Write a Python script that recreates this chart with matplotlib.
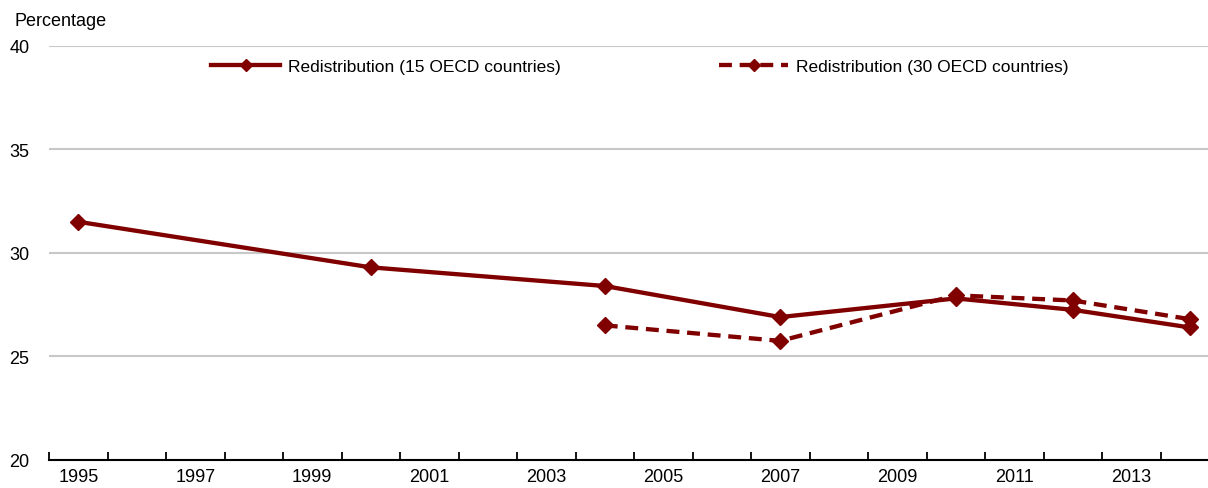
import matplotlib.pyplot as plt
import numpy as np

plt.rcParams['font.family'] = ['Liberation Sans', 'DejaVu Sans']

years = list(range(1995, 2015))
years_15 = [1995, 2000, 2004, 2007, 2010, 2012, 2014]
redis_15 = [31.5, 29.3, 28.4, 26.9, 27.8, 27.25, 26.4]
years_30 = [2004, 2007, 2010, 2012, 2014]
redis_30 = [26.5, 25.75, 27.95, 27.7, 26.8]

col = '#800000'

fig = plt.figure(figsize=(12.08, 4.89), dpi=100)
ax = fig.add_axes([49/1208, 28/489, (1219-49)/1208, 414.3/489])

x15 = [years.index(y) for y in years_15]
x30 = [years.index(y) for y in years_30]

ax.plot(x15, redis_15, color=col, lw=3.1, marker='D', ms=8,
        label='Redistribution (15 OECD countries)', zorder=3)
ax.plot(x30, redis_30, color=col, lw=3.1, marker='D', ms=8,
        linestyle=(0, (3, 1.8)), label='Redistribution (30 OECD countries)', zorder=3)

ax.set_xlim(-0.5, len(years) - 0.5)
ax.set_ylim(20, 40)
ax.set_yticks([20, 25, 30, 35, 40])
ax.yaxis.grid(True, color='#c8c8c8', lw=1.5)
ax.set_axisbelow(True)

ax.set_xticks(np.arange(0, len(years), 2))
ax.set_xticklabels([str(y) for y in years[::2]])
ax.set_xticks(np.arange(-0.5, len(years), 1), minor=True)
ax.tick_params(axis='x', which='major', length=0, pad=6, labelsize=13)
ax.tick_params(axis='x', which='minor', direction='in', length=6, width=1.3, color='black')
ax.tick_params(axis='y', length=0, pad=14, labelsize=13)

for s in ['top', 'right', 'left']:
    ax.spines[s].set_visible(False)
ax.spines['bottom'].set_linewidth(1.5)
ax.spines['bottom'].set_zorder(4)

leg = ax.legend(loc='upper center', bbox_to_anchor=(0.505, 1.005), ncol=2, frameon=False,
                fontsize=12.5, handlelength=4.0, numpoints=1, columnspacing=9.1,
                handletextpad=0.45, markerscale=0.8)

fig.text(15/1208, 1 - 22/489, 'Percentage', fontsize=13, va='center', ha='left')

fig.savefig('out.png', dpi=100)
